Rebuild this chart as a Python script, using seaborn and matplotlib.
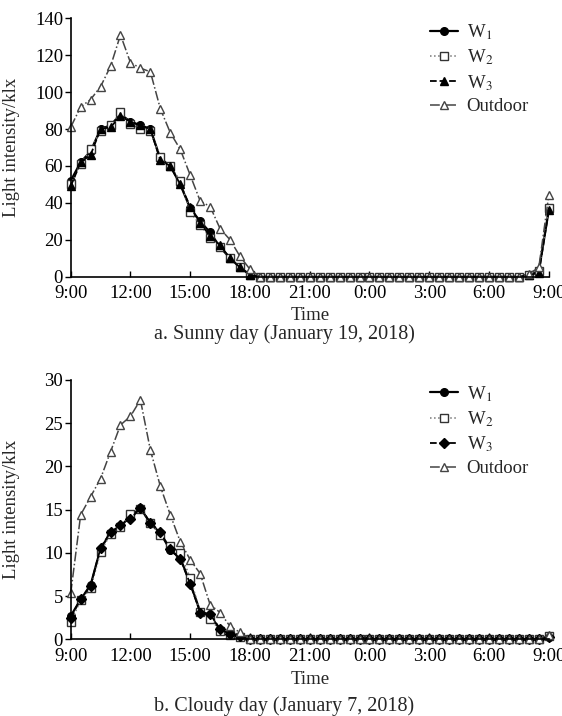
import numpy as np
import pandas as pd
import matplotlib
matplotlib.use("Agg")
import matplotlib.pyplot as plt
import seaborn as sns

sns.set_style("ticks")
plt.rcParams['font.family'] = ['Liberation Serif', 'DejaVu Serif']
plt.rcParams['mathtext.fontset'] = 'stix'

# time in hours from 9:00 (half-hourly, 9:00 to 9:00 next day)
hours = [9 + 0.5 * i for i in range(49)]
tick_hours = [9, 12, 15, 18, 21, 24, 27, 30, 33]
tick_labels = ["9:00", "12:00", "15:00", "18:00", "21:00", "0:00", "3:00", "6:00", "9:00"]

zeros_night = [0] * 27  # 18:30 .. 7:30

# Sunny day (January 19, 2018)
sunny_w1 = [52, 62, 68, 80, 82, 88, 84, 82, 80, 64, 60, 50, 37, 30, 24, 16, 10, 5, 1] + zeros_night + [1, 3, 36]
sunny_w2 = [50, 61, 69, 79, 82, 89, 83, 80, 79, 65, 60, 52, 35, 28, 21, 16, 10, 5, 1] + zeros_night + [1, 3, 37]
sunny_w3 = [49, 62, 66, 80, 81, 87, 84, 82, 80, 63, 60, 50, 38, 29, 22, 17, 10, 5, 1] + zeros_night + [1, 2, 36]
sunny_out = [81, 92, 96, 103, 114, 131, 116, 113, 111, 91, 78, 69, 55, 41, 38, 26, 20, 11, 4] + zeros_night + [1.5, 5, 44]

# Cloudy day (January 7, 2018)
cloudy_w1 = [2.7, 4.6, 6.3, 10.5, 12.3, 13.1, 14.2, 15.2, 13.4, 12.3, 10.3, 9.4, 6.5, 3.2, 2.8, 1.1, 0.6, 0.4, 0] + zeros_night + [0, 0, 0.3]
cloudy_w2 = [2.0, 4.5, 5.9, 10.1, 12.2, 13.0, 14.5, 15.1, 13.4, 12.1, 10.8, 10.0, 7.1, 3.2, 2.4, 1.0, 0.5, 0.3, 0] + zeros_night + [0, 0, 0.4]
cloudy_w3 = [2.5, 4.7, 6.2, 10.6, 12.4, 13.2, 13.9, 15.2, 13.5, 12.4, 10.4, 9.3, 6.4, 3.1, 2.9, 1.2, 0.6, 0.4, 0] + zeros_night + [0, 0, 0.3]
cloudy_out = [5.3, 14.4, 16.5, 18.6, 21.7, 24.8, 25.8, 27.7, 21.9, 17.7, 14.4, 11.3, 9.2, 7.6, 4.0, 3.1, 1.5, 0.8, 0] + zeros_night + [0, 0, 0.5]

W1 = r"W$_\mathrm{1}$"
W2 = r"W$_\mathrm{2}$"
W3 = r"W$_\mathrm{3}$"

W, H = 562, 716
fig = plt.figure(figsize=(W / 100, H / 100), dpi=100)

def px_axes(left, top, right, bottom):
    return fig.add_axes([left / W, 1 - bottom / H, (right - left) / W, (bottom - top) / H])

AX_L, AX_R = 70.7, 549.0
ax1 = px_axes(AX_L, 18.3, AX_R, 276.7)
ax2 = px_axes(AX_L, 380.0, AX_R, 639.3)

FS = 13.5

def draw(ax, top_px, bottom_px, w1, w2, w3, out, w3_marker, ymax, ystep, caption, cap_y, time_y):
    common = dict(ax=ax, clip_on=False, markersize=5.5, markeredgewidth=1.0)
    sns.lineplot(x=hours, y=w1, color="black", linestyle="-", linewidth=1.6, marker="o",
                 markerfacecolor="black", markeredgecolor="black", label=W1, **common)
    sns.lineplot(x=hours, y=w2, color="#777777", linestyle=":", linewidth=1.1, marker="s",
                 markerfacecolor="white", markeredgecolor="#333333", label=W2, **common)
    sns.lineplot(x=hours, y=w3, color="black", linestyle="--", linewidth=1.3, marker=w3_marker,
                 markerfacecolor="black", markeredgecolor="black", label=W3, **common)
    sns.lineplot(x=hours, y=out, color="#444444", linestyle="-.", linewidth=1.1, marker="^",
                 markerfacecolor="white", markeredgecolor="#444444", label="Outdoor", **common)
    ax.set_xlim(9, 33 + 0.1 * (AX_R - AX_L - 476) / 19.8)
    ax.set_ylim(0, ymax)
    ax.set_yticks(np.arange(0, ymax + 0.1, ystep))
    ax.set_xticks(tick_hours)
    ax.set_xticklabels(tick_labels)
    ax.tick_params(axis="x", direction="in", length=4, width=1, labelsize=FS, colors="black", pad=6)
    ax.tick_params(axis="y", direction="out", length=4, width=1, labelsize=FS, colors="black", pad=1.5)
    for s in ["top", "right"]:
        ax.spines[s].set_visible(False)
    for s in ["left", "bottom"]:
        ax.spines[s].set_linewidth(1.2)
        ax.spines[s].set_color("black")
    ax.set_xlabel("")
    ax.set_ylabel("Light intensity/klx", fontsize=FS)
    ax.yaxis.set_label_coords((20 - AX_L) / (AX_R - AX_L), 0.5)
    hgt = bottom_px - top_px
    ax.text(0.5, -(time_y - bottom_px) / hgt, "Time", transform=ax.transAxes,
            ha="center", va="center", fontsize=FS)
    ax.legend(loc="upper left", bbox_to_anchor=((430 - AX_L) / (AX_R - AX_L), 1 - 4 / hgt),
              frameon=False, fontsize=FS, borderpad=0, borderaxespad=0,
              handlelength=1.5, handletextpad=0.45, labelspacing=0.3)
    fig.text(284 / W, 1 - cap_y / H, caption, ha="center", va="center", fontsize=14.5)

draw(ax1, 18.3, 276.7, sunny_w1, sunny_w2, sunny_w3, sunny_out, "^", 140, 20,
     "a. Sunny day (January 19, 2018)", 334, 315)
draw(ax2, 380.0, 639.3, cloudy_w1, cloudy_w2, cloudy_w3, cloudy_out, "D", 30, 5,
     "b. Cloudy day (January 7, 2018)", 706, 680)

fig.savefig("out.png", dpi=100)
